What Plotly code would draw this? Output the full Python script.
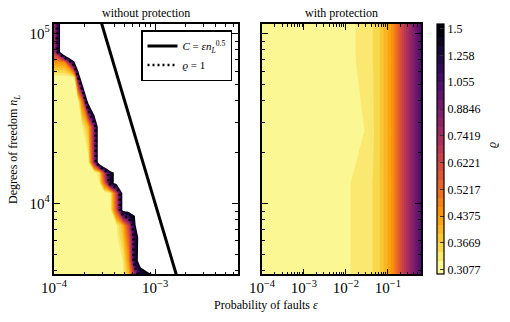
import numpy as np
import plotly.graph_objects as go
import plotly.colors as pc

# colour bar levels (geometric), 27 filled bands between 0.3077 and 1.5
rho_ticks = [0.3077, 0.3669, 0.4375, 0.5217, 0.6221, 0.7419, 0.8846, 1.055, 1.258, 1.5]
rho_tick_text = ['0.3077', '0.3669', '0.4375', '0.5217', '0.6221', '0.7419', '0.8846', '1.055', '1.258', '1.5']
n_bands = 27

# without protection: rho(eps, n_L), values above 1.5 are left blank
eps_left = [1.0e-4, 1.259e-4, 1.585e-4, 1.738e-4, 1.905e-4, 2.188e-4, 2.512e-4, 2.818e-4, 3.162e-4,
            3.631e-4, 4.169e-4, 4.786e-4, 5.495e-4, 6.310e-4, 7.244e-4, 8.710e-4, 1.096e-3, 7.943e-3]
nl_left = [3802, 4571, 6310, 7413, 9120, 11482, 13183, 15136, 17378, 28184, 39811, 54954, 67608, 77625, 114815]
rho_left = [
    [0.31, 0.31, 0.31, 0.31, 0.31, 0.31, 0.31, 0.31, 0.31, 0.31, 0.31, 0.32, 0.40, 0.75, 1.25, 1.35, 1.7, 3.0],
    [0.31, 0.31, 0.31, 0.31, 0.31, 0.31, 0.31, 0.31, 0.31, 0.31, 0.31, 0.326, 0.45, 1.25, 1.8, 3.0, 3.0, 3.0],
    [0.31, 0.31, 0.31, 0.31, 0.31, 0.31, 0.31, 0.31, 0.31, 0.31, 0.32, 0.37, 0.55, 1.2, 1.8, 3.0, 3.0, 3.0],
    [0.31, 0.31, 0.31, 0.31, 0.31, 0.31, 0.31, 0.31, 0.31, 0.31, 0.325, 0.40, 0.65, 1.35, 3.0, 3.0, 3.0, 3.0],
    [0.31, 0.31, 0.31, 0.31, 0.31, 0.31, 0.31, 0.31, 0.31, 0.32, 0.6, 1.6, 1.7, 1.6, 3.0, 3.0, 3.0, 3.0],
    [0.31, 0.31, 0.31, 0.31, 0.31, 0.31, 0.31, 0.31, 0.31, 0.33, 0.65, 1.6, 3.0, 3.0, 3.0, 3.0, 3.0, 3.0],
    [0.31, 0.31, 0.31, 0.31, 0.31, 0.31, 0.31, 0.325, 0.55, 1.35, 1.65, 3.0, 3.0, 3.0, 3.0, 3.0, 3.0, 3.0],
    [0.31, 0.31, 0.31, 0.31, 0.31, 0.31, 0.31, 0.35, 0.70, 1.35, 1.65, 3.0, 3.0, 3.0, 3.0, 3.0, 3.0, 3.0],
    [0.31, 0.31, 0.31, 0.31, 0.31, 0.31, 0.8, 2.0, 3.0, 3.0, 3.0, 3.0, 3.0, 3.0, 3.0, 3.0, 3.0, 3.0],
    [0.31, 0.31, 0.31, 0.31, 0.326, 0.40, 0.85, 2.0, 3.0, 3.0, 3.0, 3.0, 3.0, 3.0, 3.0, 3.0, 3.0, 3.0],
    [0.31, 0.31, 0.31, 0.32, 0.5, 1.7, 3.0, 3.0, 3.0, 3.0, 3.0, 3.0, 3.0, 3.0, 3.0, 3.0, 3.0, 3.0],
    [0.31, 0.31, 0.32, 1.0, 2.2, 3.0, 3.0, 3.0, 3.0, 3.0, 3.0, 3.0, 3.0, 3.0, 3.0, 3.0, 3.0, 3.0],
    [0.45, 0.45, 1.4, 2.5, 3.0, 3.0, 3.0, 3.0, 3.0, 3.0, 3.0, 3.0, 3.0, 3.0, 3.0, 3.0, 3.0, 3.0],
    [0.7, 2.5, 3.0, 3.0, 3.0, 3.0, 3.0, 3.0, 3.0, 3.0, 3.0, 3.0, 3.0, 3.0, 3.0, 3.0, 3.0, 3.0],
    [0.7, 2.5, 3.0, 3.0, 3.0, 3.0, 3.0, 3.0, 3.0, 3.0, 3.0, 3.0, 3.0, 3.0, 3.0, 3.0, 3.0, 3.0],
]

# with protection
eps_right = [1.0e-4, 1.0e-3, 3.162e-3, 1.0e-2, 1.738e-2, 3.162e-2, 4.467e-2, 6.457e-2, 7.943e-2,
             0.1, 0.1259, 0.1585, 0.1995, 0.2512, 0.3162, 0.3981, 0.5012, 0.6166]
nl_right = [3802, 13183, 26977, 69183, 114815]
rho_right = [
    [0.311, 0.312, 0.315, 0.323, 0.330, 0.339, 0.347, 0.3672, 0.3895, 0.4132, 0.445, 0.51, 0.59, 0.67, 0.75, 0.85, 0.95, 1.04],
    [0.311, 0.312, 0.315, 0.323, 0.330, 0.339, 0.347, 0.3672, 0.3895, 0.4132, 0.445, 0.51, 0.59, 0.67, 0.75, 0.85, 0.95, 1.04],
    [0.311, 0.312, 0.313, 0.316, 0.320, 0.328, 0.343, 0.3672, 0.3895, 0.4132, 0.445, 0.51, 0.59, 0.67, 0.75, 0.85, 0.95, 1.04],
    [0.311, 0.312, 0.314, 0.319, 0.3265, 0.338, 0.3465, 0.3672, 0.3895, 0.4132, 0.445, 0.51, 0.59, 0.67, 0.75, 0.85, 0.95, 1.04],
    [0.311, 0.312, 0.314, 0.319, 0.3265, 0.338, 0.3465, 0.3672, 0.3895, 0.4132, 0.445, 0.51, 0.59, 0.67, 0.75, 0.85, 0.95, 1.04],
]

# C = eps * n_L^0.5 with C = 0.1
line_nl = [3800, 115000]
line_eps = [1.622e-3, 2.949e-4]

W, H = 510, 322
FONT = 'Liberation Serif'

infer = [pc.hex_to_rgb(c) for c in pc.sequential.Inferno]


def inferno(t):
    t = min(max(t, 0.0), 1.0) * (len(infer) - 1)
    i = min(int(t), len(infer) - 2)
    f = t - i
    a, b = infer[i], infer[i + 1]
    return 'rgb(%d,%d,%d)' % tuple(round(a[j] + (b[j] - a[j]) * f) for j in range(3))


band_colors = [inferno(1 - (k + 0.5) / n_bands) for k in range(n_bands)]


def step_scale(top):
    # region below start, the bands, region above end
    cols = [band_colors[0]] + band_colors + [top]
    n = len(cols) - 1
    scale = []
    for r, c in enumerate(cols):
        scale.append([max(0.0, (r - 0.5) / n), c])
        scale.append([min(1.0, (r + 0.5) / n), c])
    return scale


lo, hi = np.log10(rho_ticks[0]), np.log10(rho_ticks[-1])
size = (hi - lo) / n_bands
levels = dict(start=lo, end=hi, size=size, coloring='fill', showlines=False)

fig = go.Figure()
fig.add_trace(go.Contour(x=eps_left, y=nl_left, z=np.log10(rho_left), xaxis='x', yaxis='y',
                         autocontour=False, contours=levels, colorscale=step_scale('rgb(255,255,255)'),
                         line=dict(width=0, smoothing=0), showscale=False, showlegend=False,
                         hoverinfo='skip'))
fig.add_trace(go.Contour(x=eps_right, y=nl_right, z=np.log10(rho_right), xaxis='x2', yaxis='y2',
                         autocontour=False, contours=levels, colorscale=step_scale(band_colors[-1]),
                         line=dict(width=0, smoothing=0), hoverinfo='skip', showlegend=False,
                         colorbar=dict(x=437 / W, xanchor='left', y=(H - 149.2) / H, yanchor='middle',
                                       len=250.3 / H, thickness=7, xpad=0, ypad=0,
                                       outlinewidth=1.2, outlinecolor='black',
                                       tickvals=np.log10(rho_ticks), ticktext=rho_tick_text,
                                       ticks='inside', ticklen=4, tickcolor='#333',
                                       tickfont=dict(family=FONT, size=12, color='black'))))
# rho = 1 contour
fig.add_trace(go.Contour(x=eps_left, y=nl_left, z=np.log10(rho_left), xaxis='x', yaxis='y',
                         autocontour=False,
                         contours=dict(start=-0.0001, end=0.0001, size=0.001, coloring='none', showlines=True),
                         line=dict(color='black', width=2.5, dash='2px,3px', smoothing=0),
                         showscale=False, showlegend=False, hoverinfo='skip'))
fig.add_trace(go.Scatter(x=line_eps, y=line_nl, xaxis='x', yaxis='y', mode='lines',
                         line=dict(color='black', width=3),
                         name='<i>C</i> = <i>εn</i><sub><i>L</i></sub><sup>0.5</sup>'))
fig.add_trace(go.Scatter(x=[None], y=[None], xaxis='x', yaxis='y', mode='lines',
                         line=dict(color='black', width=2.5, dash='2px,3px'), name='<i>ϱ</i> = 1'))

ax = dict(type='log', showline=True, linecolor='black', linewidth=1.5, mirror='ticks',
          ticks='inside', ticklen=6, tickwidth=1, tickcolor='black', dtick=1,
          exponentformat='power', showgrid=False, zeroline=False,
          minor=dict(ticks='inside', ticklen=3, tickwidth=1, tickcolor='black', dtick='D1', showgrid=False),
          tickfont=dict(family=FONT, size=12, color='black'))
ydom = [(H - 274.3) / H, (H - 24) / H]
yr = [3.582, 5.055]


def label(text, x, y, angle=0):
    return dict(text=text, x=x / W, y=(H - y) / H, xref='paper', yref='paper',
                xanchor='center', yanchor='middle', textangle=angle, showarrow=False,
                font=dict(size=12))


fig.update_layout(
    width=W, height=H, margin=dict(l=0, r=0, t=0, b=0, autoexpand=False),
    paper_bgcolor='white', plot_bgcolor='white',
    font=dict(family=FONT, size=12, color='black'),
    xaxis=dict(ax, domain=[54 / W, 238 / W], range=[-4, -2.18]),
    yaxis=dict(ax, domain=ydom, range=yr),
    xaxis2=dict(ax, domain=[262 / W, 421 / W], range=[-4, -0.21], anchor='y2'),
    yaxis2=dict(ax, domain=ydom, range=yr, anchor='x2', showticklabels=False),
    showlegend=True,
    legend=dict(x=232 / W, xanchor='right', y=(H - 30) / H, yanchor='top',
                bgcolor='white', bordercolor='black', borderwidth=1.5,
                font=dict(family=FONT, size=11), tracegroupgap=0, itemwidth=30),
    annotations=[
        label('without protection', 146, 13),
        label('with protection', 341.5, 13),
        label('Degrees of freedom <i>n</i><sub><i>L</i></sub>', 14, 150, -90),
        label('Probability of faults <i>ε</i>', 266, 305),
        label('<i>ϱ</i>', 492, 145, -90),
    ],
)

# the page's default body margin would shift the figure
fig.write_html("out.html", config={'displayModeBar': False},
               post_script="document.body.style.margin='0';")
